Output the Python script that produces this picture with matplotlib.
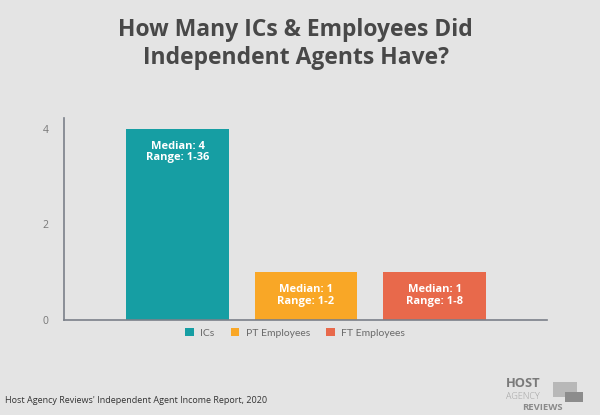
import matplotlib
matplotlib.use("Agg")
import matplotlib.pyplot as plt
from matplotlib.patches import Rectangle, Patch
from matplotlib.transforms import ScaledTranslation

categories = ["ICs", "PT Employees", "FT Employees"]
medians = [4, 1, 1]
ranges = ["1-36", "1-2", "1-8"]
colors = ["#169ea3", "#f9a726", "#e8694b"]
yticks = [0, 2, 4]

bg = "#e4e4e4"
fig = plt.figure(figsize=(6, 4.15), dpi=100, facecolor=bg)
ax = fig.add_axes([64/600, 1-320/415, (547-64)/600, (320-118)/415])
ax.set_facecolor("none")

x = list(range(len(categories)))
bars = ax.bar(x, medians, width=0.8, color=colors, zorder=2)
for b, m, r in zip(bars, medians, ranges):
    ax.text(b.get_x()+b.get_width()/2, b.get_height(), f"Median: {m}\nRange: {r}",
            ha="center", va="top", color="white",
            fontsize=8, fontweight="bold", family="Open Sans", linespacing=1.05,
            zorder=3,
            transform=ax.transData + ScaledTranslation(0, -12/100, fig.dpi_scale_trans))

ax.set_xlim(-0.883, 2.875)
ax.set_ylim(0, 4.23)
ax.set_yticks(yticks)
ax.set_yticklabels([str(t) for t in yticks], color="#777777", fontsize=7.5, family="Open Sans")
ax.set_xticks([])
ax.tick_params(axis="y", length=0, pad=11)
for s in ["top", "right"]:
    ax.spines[s].set_visible(False)
for s in ["left", "bottom"]:
    ax.spines[s].set_color("#7b8089")
    ax.spines[s].set_linewidth(1.2)

handles = [Patch(facecolor=c, edgecolor="none") for c in colors]
leg = fig.legend(handles, categories, loc="center", bbox_to_anchor=(0.492, 1-333/415),
                 ncol=3, frameon=False, handlelength=0.8, handleheight=0.8,
                 handletextpad=0.6, columnspacing=1.6,
                 prop={"family": "Lato", "size": 7.5})
for t in leg.get_texts():
    t.set_color("#6a6a6a")

fig.text(0.493, 1-30/415, "How Many ICs & Employees Did", ha="center", va="center",
         fontsize=16.5, fontweight="bold", family="Open Sans", color="#484848")
fig.text(0.493, 1-58/415, "Independent Agents Have?", ha="center", va="center",
         fontsize=16.5, fontweight="bold", family="Open Sans", color="#484848")

fig.text(5/600, 1-400/415, "Host Agency Reviews' Independent Agent Income Report, 2020",
         ha="left", va="center", fontsize=6.5, family="Open Sans", color="#333333")

# logo
fig.patches.append(Rectangle((553/600, 1-397/415), 24/600, 15/415, transform=fig.transFigure,
                             facecolor="#b8b8b8", edgecolor="none"))
fig.patches.append(Rectangle((565/600, 1-402/415), 18/600, 10/415, transform=fig.transFigure,
                             facecolor="#8c8c8c", edgecolor="none"))
fig.text(506/600, 1-383.5/415, "HOST", ha="left", va="center", fontsize=9.3,
         family="Open Sans", fontweight="bold", color="#7a7a7a")
fig.text(506/600, 1-396/415, "AGENCY", ha="left", va="center", fontsize=6.5,
         family="Open Sans", fontweight="light", color="#a0a0a0")
fig.text(522/600, 1-407/415, "REVIEWS", ha="left", va="center", fontsize=6.8,
         family="Open Sans", fontweight="bold", color="#8a8a8a")

fig.savefig("out.png", dpi=100, facecolor=bg)
